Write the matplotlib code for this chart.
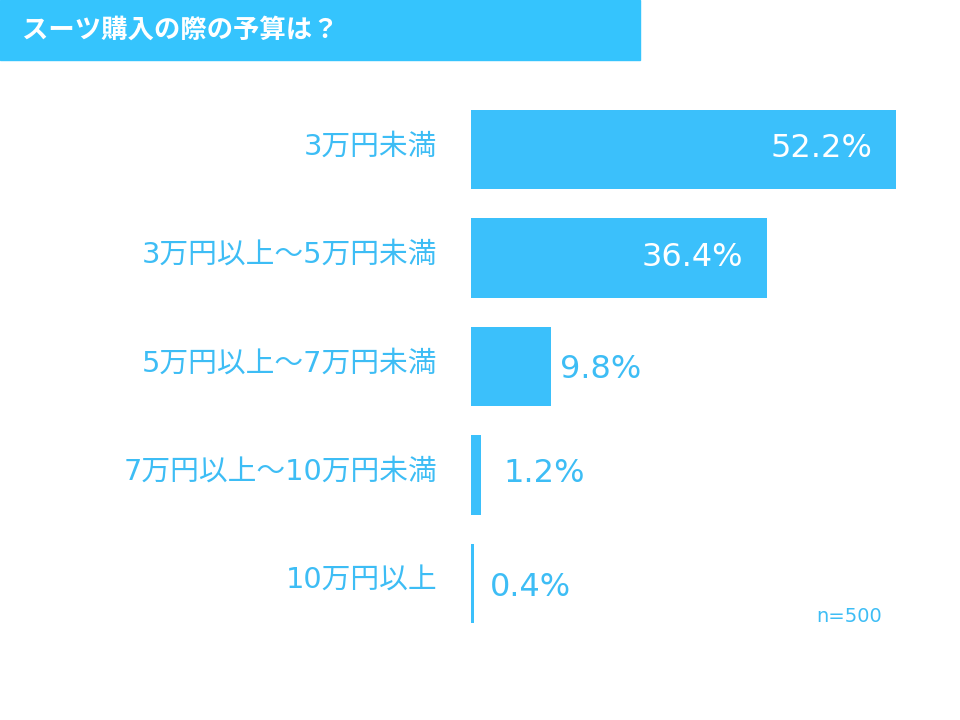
import matplotlib
matplotlib.use("Agg")
import matplotlib.pyplot as plt
from matplotlib.patches import Rectangle

categories = ["3万円未満", "3万円以上～5万円未満", "5万円以上～7万円未満",
              "7万円以上～10万円未満", "10万円以上"]
values = [52.2, 36.4, 9.8, 1.2, 0.4]
title = "スーツ購入の際の予算は？"
note = "n=500"

BAR = "#3bc0fb"
TXT = "#3dbdf5"
BANNER = "#35c4fd"
JP = ["Noto Sans CJK JP", "DejaVu Sans"]
NUM = ["DejaVu Sans", "Noto Sans CJK JP"]

W, H = 960, 720
fig = plt.figure(figsize=(W / 100, H / 100), dpi=100)
fig.patch.set_facecolor("white")

# banner
fig.patches.append(Rectangle((0, 1 - 60 / H), 640 / W, 60 / H,
                             transform=fig.transFigure, color=BANNER, zorder=0))
fig.text(22 / W, 1 - 30 / H, title, family=JP, fontsize=19, fontweight="bold",
         color="white", ha="left", va="center")

# axes: x=0 at px 471, 8.14 px per %
x0 = 471
pxper = 8.14
xmax = 60
ytop, ybot = 95.25, 637.75
ax = fig.add_axes([x0 / W, 1 - ybot / H, xmax * pxper / W, (ybot - ytop) / H])
ax.set_xlim(0, xmax)
ax.set_ylim(len(values) - 0.5, -0.5)
ax.axis("off")

ypos = list(range(len(values)))
ax.barh(ypos, values, height=0.737, color=BAR, edgecolor="none")

for i, (c, v) in enumerate(zip(categories, values)):
    ax.annotate(c, xy=(0, i), xytext=(-34, 3), textcoords="offset pixels",
                ha="right", va="center", family=NUM, fontsize=20.7, color=TXT)
    if v > 20:
        ax.annotate(f"{v}%", xy=(v, i), xytext=(-24, 1), textcoords="offset pixels",
                    ha="right", va="center", family=NUM, fontsize=23, color="white")
    else:
        offs = {2: (9, -3), 3: (23, 1), 4: (16, -4)}
        dx, dy = offs.get(i, (10, 0))
        ax.annotate(f"{v}%", xy=(v, i), xytext=(dx, dy), textcoords="offset pixels",
                    ha="left", va="center", family=NUM, fontsize=23, color=TXT)

fig.text(882 / W, 1 - 617 / H, note, family=NUM, fontsize=14, color=TXT,
         ha="right", va="center")

fig.savefig("out.png", dpi=100, facecolor="white")
